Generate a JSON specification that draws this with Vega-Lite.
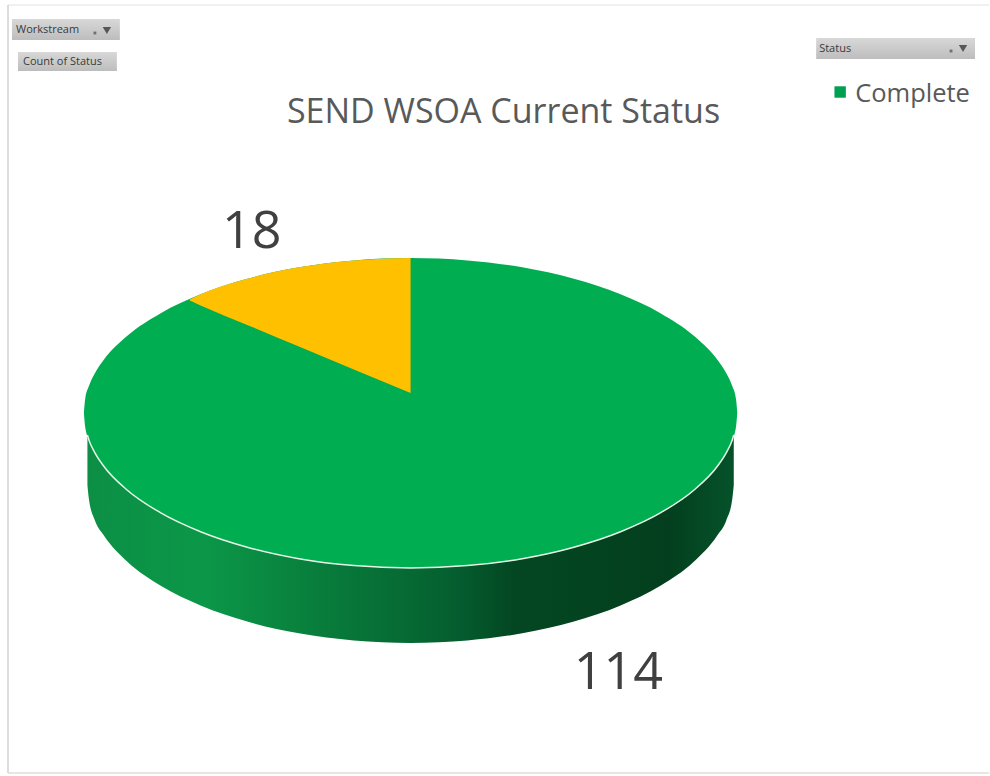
{
  "$schema": "https://vega.github.io/schema/vega-lite/v6.json",
  "width": 990,
  "height": 776,
  "padding": 0,
  "autosize": {"type": "fit", "contains": "padding"},
  "background": "#ffffff",
  "view": {"stroke": null},
  "datasets": {
    "frame": [
      {"x": -4.03, "y": 4.08, "x2": -4.03, "y2": -3.6, "edge": "left"},
      {"x": -4.03, "y": -3.6, "x2": 5.79, "y2": -3.6, "edge": "bottom"},
      {"x": -4.03, "y": 4.08, "x2": 5.79, "y2": 4.08, "edge": "top"}
    ],
    "side": [
      {"x": -3.235, "y": -0.22, "y2": -0.72},
      {"x": -3.22, "y": -0.269, "y2": -0.86},
      {"x": -3.16, "y": -0.398, "y2": -1.074},
      {"x": -3.073, "y": -0.53, "y2": -1.22},
      {"x": -2.832, "y": -0.775, "y2": -1.49},
      {"x": -2.505, "y": -0.996, "y2": -1.725},
      {"x": -2.102, "y": -1.187, "y2": -1.924},
      {"x": -1.635, "y": -1.342, "y2": -2.085},
      {"x": -1.118, "y": -1.457, "y2": -2.203},
      {"x": -0.568, "y": -1.526, "y2": -2.275},
      {"x": 0, "y": -1.55, "y2": -2.3},
      {"x": 0.568, "y": -1.526, "y2": -2.275},
      {"x": 1.118, "y": -1.457, "y2": -2.203},
      {"x": 1.635, "y": -1.342, "y2": -2.085},
      {"x": 2.102, "y": -1.187, "y2": -1.924},
      {"x": 2.505, "y": -0.996, "y2": -1.725},
      {"x": 2.832, "y": -0.775, "y2": -1.49},
      {"x": 3.073, "y": -0.53, "y2": -1.22},
      {"x": 3.16, "y": -0.398, "y2": -1.074},
      {"x": 3.22, "y": -0.269, "y2": -0.86},
      {"x": 3.235, "y": -0.22, "y2": -0.72}
    ],
    "top": [
      {"x": -3.27, "y": 0, "y2": 0},
      {"x": -3.258, "y": 0.135, "y2": -0.135},
      {"x": -3.22, "y": 0.269, "y2": -0.269},
      {"x": -3.16, "y": 0.398, "y2": -0.398},
      {"x": -3.073, "y": 0.53, "y2": -0.53},
      {"x": -2.832, "y": 0.775, "y2": -0.775},
      {"x": -2.505, "y": 0.996, "y2": -0.996},
      {"x": -2.102, "y": 1.187, "y2": -1.187},
      {"x": -1.635, "y": 1.342, "y2": -1.342},
      {"x": -1.118, "y": 1.457, "y2": -1.457},
      {"x": -0.568, "y": 1.526, "y2": -1.526},
      {"x": 0, "y": 1.55, "y2": -1.55},
      {"x": 0.568, "y": 1.526, "y2": -1.526},
      {"x": 1.118, "y": 1.457, "y2": -1.457},
      {"x": 1.635, "y": 1.342, "y2": -1.342},
      {"x": 2.102, "y": 1.187, "y2": -1.187},
      {"x": 2.505, "y": 0.996, "y2": -0.996},
      {"x": 2.832, "y": 0.775, "y2": -0.775},
      {"x": 3.073, "y": 0.53, "y2": -0.53},
      {"x": 3.16, "y": 0.398, "y2": -0.398},
      {"x": 3.22, "y": 0.269, "y2": -0.269},
      {"x": 3.258, "y": 0.135, "y2": -0.135},
      {"x": 3.27, "y": 0, "y2": 0}
    ],
    "slice18": [
      {"x": -2.21, "y": 1.135, "y2": 1.125},
      {"x": -2.102, "y": 1.187, "y2": 1.075},
      {"x": -1.635, "y": 1.342, "y2": 0.881},
      {"x": -1.118, "y": 1.457, "y2": 0.665},
      {"x": -0.568, "y": 1.526, "y2": 0.436},
      {"x": 0, "y": 1.55, "y2": 0.2}
    ],
    "rim": [
      {"x": -3.235, "y": -0.22},
      {"x": -3.22, "y": -0.269},
      {"x": -3.16, "y": -0.398},
      {"x": -3.073, "y": -0.53},
      {"x": -2.832, "y": -0.775},
      {"x": -2.505, "y": -0.996},
      {"x": -2.102, "y": -1.187},
      {"x": -1.635, "y": -1.342},
      {"x": -1.118, "y": -1.457},
      {"x": -0.568, "y": -1.526},
      {"x": 0, "y": -1.55},
      {"x": 0.568, "y": -1.526},
      {"x": 1.118, "y": -1.457},
      {"x": 1.635, "y": -1.342},
      {"x": 2.102, "y": -1.187},
      {"x": 2.505, "y": -0.996},
      {"x": 2.832, "y": -0.775},
      {"x": 3.073, "y": -0.53},
      {"x": 3.16, "y": -0.398},
      {"x": 3.22, "y": -0.269},
      {"x": 3.235, "y": -0.22}
    ],
    "buttons": [
      {"x": -3.99, "x2": -2.91, "y": 3.94, "y2": 3.73, "name": "Workstream"},
      {"x": -3.93, "x2": -2.94, "y": 3.61, "y2": 3.42, "name": "Count of Status"},
      {"x": 4.06, "x2": 5.65, "y": 3.75, "y2": 3.54, "name": "Status"}
    ],
    "buttonLabels": [
      {"x": -3.95, "y": 3.83, "label": "Workstream", "size": 11},
      {"x": -3.88, "y": 3.51, "label": "Count of Status", "size": 11},
      {"x": 4.09, "y": 3.645, "label": "Status", "size": 11}
    ],
    "filterIcons": [
      {"x": -3.04, "y": 3.825},
      {"x": 5.53, "y": 3.645}
    ],
    "dropMarks": [
      {"x": -3.16, "y": 3.8},
      {"x": 5.41, "y": 3.62}
    ],
    "valueLabels": [
      {"x": -1.59, "y": 1.81, "value": 18},
      {"x": 2.08, "y": -2.6, "value": 114}
    ],
    "legendSwatch": [{"x": 4.3, "y": 3.21, "status": "Complete"}],
    "legendLabel": [{"x": 4.45, "y": 3.19, "status": "Complete"}],
    "heading": [{"x": 0.93, "y": 3.0, "label": "SEND WSOA Current Status"}]
  },
  "encoding": {
    "x": {"field": "x", "type": "quantitative", "axis": null, "scale": {"domain": [-4.11, 5.79], "nice": false, "zero": false}},
    "y": {"field": "y", "type": "quantitative", "axis": null, "scale": {"domain": [-3.63, 4.13], "nice": false, "zero": false}}
  },
  "layer": [
    {
      "data": {"name": "frame"},
      "mark": {"type": "rule", "color": "#dcdcdc", "strokeWidth": 2},
      "encoding": {"x2": {"field": "x2"}, "y2": {"field": "y2"},
        "opacity": {"field": "edge", "type": "nominal", "legend": null, "scale": {"domain": ["left", "bottom", "top"], "range": [1, 0.4, 0.12]}}}
    },
    {
      "data": {"name": "side"},
      "mark": {"type": "area", "orient": "vertical", "interpolate": "monotone",
        "color": {"gradient": "linear", "x1": 0, "y1": 0, "x2": 1, "y2": 0,
          "stops": [
            {"offset": 0, "color": "#0c8f45"},
            {"offset": 0.18, "color": "#0b9748"},
            {"offset": 0.38, "color": "#087a3a"},
            {"offset": 0.56, "color": "#056030"},
            {"offset": 0.66, "color": "#034722"},
            {"offset": 0.9, "color": "#033f1e"},
            {"offset": 1, "color": "#05522a"}
          ]}},
      "encoding": {"y2": {"field": "y2"}}
    },
    {
      "data": {"name": "top"},
      "mark": {"type": "area", "orient": "vertical", "interpolate": "monotone", "color": "#00ad50"},
      "encoding": {"y2": {"field": "y2"}}
    },
    {
      "data": {"name": "slice18"},
      "mark": {"type": "area", "orient": "vertical", "interpolate": "monotone", "color": "#ffc000"},
      "encoding": {"y2": {"field": "y2"}}
    },
    {
      "data": {"name": "rim"},
      "mark": {"type": "line", "interpolate": "monotone", "color": "#e6f5e6", "strokeWidth": 1.5}
    },
    {
      "data": {"name": "buttons"},
      "mark": {"type": "rect",
        "color": {"gradient": "linear", "x1": 0, "y1": 0, "x2": 0, "y2": 1,
          "stops": [{"offset": 0, "color": "#d8d8d8"}, {"offset": 1, "color": "#bdbdbd"}]}},
      "encoding": {"x2": {"field": "x2"}, "y2": {"field": "y2"}}
    },
    {
      "data": {"name": "buttonLabels"},
      "mark": {"type": "text", "align": "left", "baseline": "middle", "font": "Open Sans", "color": "#3a3a3a"},
      "encoding": {"text": {"field": "label"}, "size": {"field": "size", "type": "quantitative", "legend": null, "scale": null}}
    },
    {
      "data": {"name": "filterIcons"},
      "mark": {"type": "point", "shape": "triangle-down", "filled": true, "size": 70, "color": "#4a4a4a", "opacity": 0.9}
    },
    {
      "data": {"name": "dropMarks"},
      "mark": {"type": "point", "shape": "square", "filled": true, "size": 8, "color": "#4a4a4a"}
    },
    {
      "data": {"name": "valueLabels"},
      "mark": {"type": "text", "align": "center", "baseline": "middle", "font": "Open Sans", "fontSize": 52, "color": "#404040"},
      "encoding": {"text": {"field": "value", "type": "quantitative"}}
    },
    {
      "data": {"name": "legendSwatch"},
      "mark": {"type": "point", "shape": "square", "filled": true, "size": 130, "color": "#00a050", "opacity": 1}
    },
    {
      "data": {"name": "legendLabel"},
      "mark": {"type": "text", "align": "left", "baseline": "middle", "font": "Open Sans", "fontSize": 25.5, "color": "#595959"},
      "encoding": {"text": {"field": "status"}}
    },
    {
      "data": {"name": "heading"},
      "mark": {"type": "text", "align": "center", "baseline": "middle", "font": "Open Sans", "fontSize": 34, "color": "#595959"},
      "encoding": {"text": {"field": "label"}}
    }
  ]
}
